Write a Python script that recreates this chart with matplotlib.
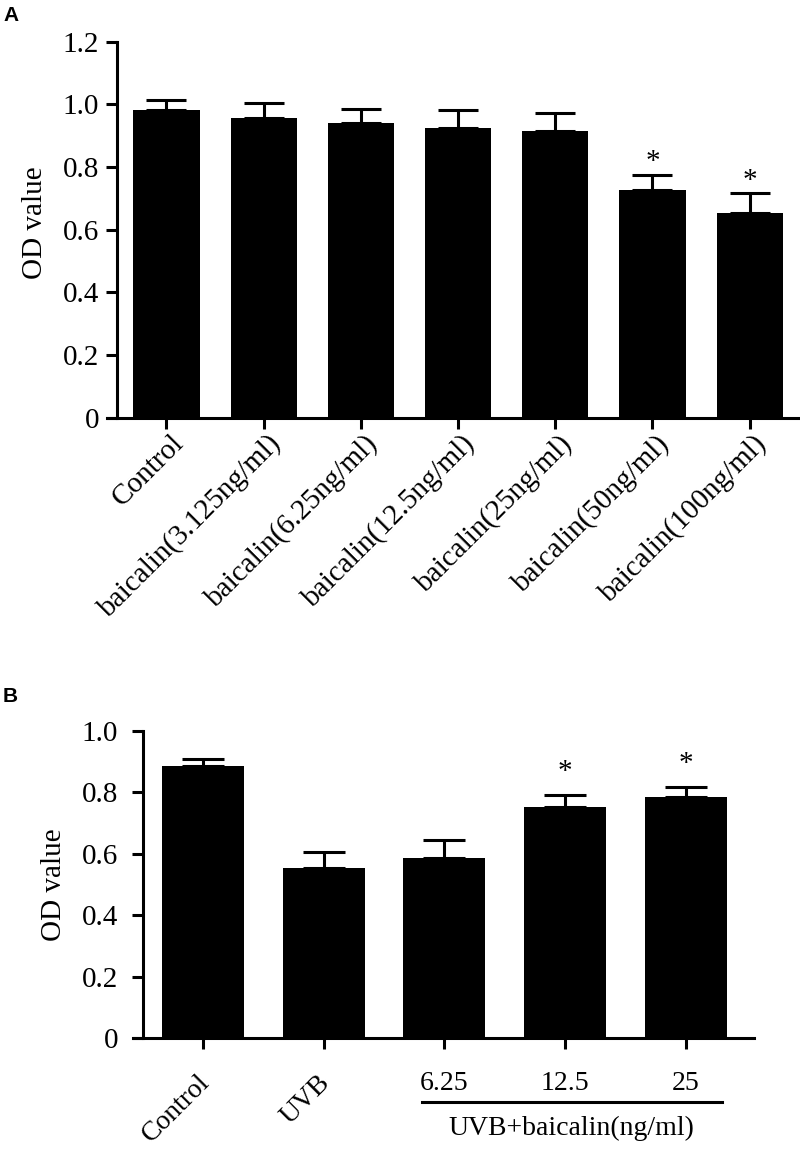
import numpy as np
import matplotlib
matplotlib.use('Agg')
import matplotlib.pyplot as plt
from matplotlib.lines import Line2D
from matplotlib.transforms import ScaledTranslation

plt.rcParams['font.family'] = ['Liberation Serif', 'DejaVu Serif']

# ---------------- data ----------------
a_labels = ['Control', 'baicalin(3.125ng/ml)', 'baicalin(6.25ng/ml)',
            'baicalin(12.5ng/ml)', 'baicalin(25ng/ml)', 'baicalin(50ng/ml)',
            'baicalin(100ng/ml)']
a_vals = [0.983, 0.955, 0.940, 0.924, 0.915, 0.726, 0.652]
a_errs = [0.032, 0.050, 0.045, 0.057, 0.058, 0.050, 0.064]
a_star = [False, False, False, False, False, True, True]

b_labels = ['Control', 'UVB']
b_doses = ['6.25', '12.5', '25']
b_vals = [0.885, 0.554, 0.587, 0.752, 0.784]
b_errs = [0.023, 0.052, 0.058, 0.039, 0.033]
b_star = [False, False, False, True, True]

LW = 2.2

fig = plt.figure(figsize=(8, 11.55), dpi=100)


def style_axes(ax, xleft, ymax, yticks, yticklabels, pad):
    ax.spines['top'].set_visible(False)
    ax.spines['right'].set_visible(False)
    ax.spines['left'].set_position(('data', xleft))
    for s in ['left', 'bottom']:
        ax.spines[s].set_linewidth(LW)
    ax.set_ylim(0, ymax)
    ax.set_yticks(yticks)
    ax.set_yticklabels(yticklabels)
    ax.tick_params(axis='both', direction='out', length=8, width=LW)
    ax.tick_params(axis='y', labelsize=21, pad=pad)


def draw_bars(ax, vals, errs, stars, capsize, star_off):
    x = np.arange(len(vals))
    ax.bar(x, vals, width=0.68, color='black', zorder=2)
    ax.errorbar(x, vals, yerr=[np.zeros(len(errs)), errs], fmt='none',
                ecolor='black', elinewidth=LW, capsize=capsize,
                capthick=LW, zorder=3)
    for xi, v, e, s in zip(x, vals, errs, stars):
        if s:
            ax.text(xi, v + e + star_off, '*', ha='center', va='center',
                    fontsize=21)
    return x


def shift_labels(ax, dx, dy):
    off = ScaledTranslation(dx / 100, dy / 100, fig.dpi_scale_trans)
    for lab in ax.get_xticklabels():
        lab.set_transform(lab.get_transform() + off)


# ---------------- panel A ----------------
axA = fig.add_axes([107/800, 1-417.7/1155, 693/800, 376/1155])
xA = draw_bars(axA, a_vals, a_errs, a_star, 14.5, 0.04)
axA.set_xlim(-0.612, 6.518)
style_axes(axA, -0.509, 1.2, np.arange(0, 1.21, 0.2),
           ['0', '0.2', '0.4', '0.6', '0.8', '1.0', '1.2'], 5)
axA.set_xticks(xA)
axA.set_xticklabels(a_labels, rotation=45, ha='right', fontsize=21,
                    rotation_mode='anchor', va='center')
axA.tick_params(axis='x', pad=14)
shift_labels(axA, 13, 9)
axA.set_ylabel('OD value', fontsize=21)
axA.yaxis.set_label_coords(-0.085, 0.518)

# ---------------- panel B ----------------
axB = fig.add_axes([133/800, 1-1038/1155, 621/800, 307/1155])
xB = draw_bars(axB, b_vals, b_errs, b_star, 15, 0.077)
axB.set_xlim(-0.58, 4.565)
style_axes(axB, -0.497, 1.0, np.arange(0, 1.01, 0.2),
           ['0', '0.2', '0.4', '0.6', '0.8', '1.0'], 10)
axB.set_xticks(xB)
axB.set_xticklabels(b_labels + [''] * len(b_doses), rotation=45,
                    ha='right', fontsize=20, rotation_mode='anchor',
                    va='center')
axB.tick_params(axis='x', pad=14)
shift_labels(axB, 3, -10)
axB.set_ylabel('OD value', fontsize=21)
axB.yaxis.set_label_coords(-0.106, 0.498)

trans = axB.get_xaxis_transform()
for xi, d in zip(xB[2:], b_doses):
    axB.text(xi, -0.1466, d, transform=trans, ha='center', va='center',
             fontsize=20)
axB.add_line(Line2D([1.814, 4.30], [-0.2085, -0.2085], transform=trans,
                    color='black', lw=LW, clip_on=False))
axB.text(3.05, -0.296, 'UVB+baicalin(ng/ml)', transform=trans,
         ha='center', va='center', fontsize=20)

# panel letters
fig.text(3/800, 1-15.5/1155, 'A', family='Liberation Sans', fontweight='bold',
         fontsize=15, va='center')
fig.text(3/800, 1-697/1155, 'B', family='Liberation Sans', fontweight='bold',
         fontsize=15, va='center')

fig.savefig('out.png', dpi=100)
